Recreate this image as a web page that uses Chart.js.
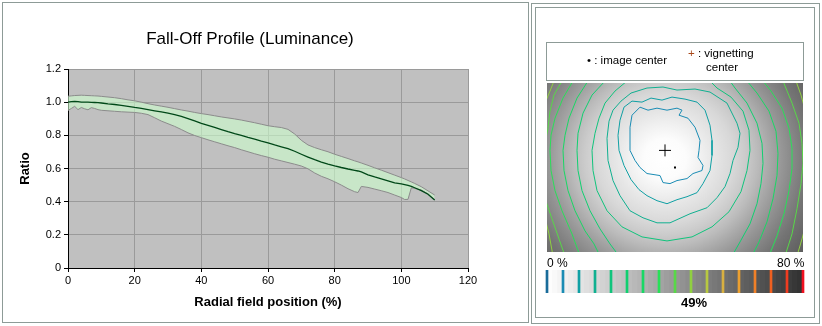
<!DOCTYPE html>
<html>
<head>
<meta charset="utf-8">
<script src="https://cdn.jsdelivr.net/npm/chart.js@4.4.0/dist/chart.umd.min.js"></script>
<style>
  body { margin: 0; width: 822px; height: 326px; overflow: hidden; position: relative; background: #fff;
         font-family: Arial, "Liberation Sans", sans-serif; color: #000; }
  canvas, .box, .txt { position: absolute; }
  .box { border: 1px solid #8d9b97; box-sizing: border-box; }
  .txt { white-space: nowrap; }
</style>
</head>
<body>
<canvas id="profile" width="530" height="324" style="left:0;top:0"></canvas>
<canvas id="map" width="256" height="169" style="left:547px;top:83px"></canvas>
<canvas id="scale" width="260" height="23" style="left:545px;top:270px"></canvas>

<div class="box" style="left:2px;top:2px;width:527px;height:321px"></div>
<div class="box" style="left:531px;top:3px;width:289px;height:321px"></div>
<div class="box" style="left:535px;top:7px;width:280px;height:311px"></div>
<div class="box" style="left:546px;top:42px;width:258px;height:39px"></div>

<div class="txt" style="left:587px;top:54px;font-size:11.5px">&#8226; : image center</div>
<div class="txt" style="left:688px;top:47px;font-size:11.5px"><span style="color:#a8481a">+</span> : vignetting</div>
<div class="txt" style="left:706px;top:61px;font-size:11.5px">center</div>
<div class="txt" style="left:547px;top:256px;font-size:12px">0 %</div>
<div class="txt" style="left:777px;top:256px;font-size:12px;width:26px;text-align:right">80 %</div>
<div class="txt" style="left:674px;top:295px;font-size:13px;font-weight:bold;width:40px;text-align:center">49%</div>

<script>
Chart.defaults.font.family = 'Arial, "Liberation Sans", sans-serif';
Chart.defaults.color = '#000';
Chart.defaults.animation = false;

// fall-off profile, radial position (%) vs ratio
const radialPos = [0,1,2,3,4,5,6,7,8,9,10,12,14,16,18,20,22,24,26,28,30,32,34,36,38,40,42,44,46,48,50,52,54,56,58,60,62,64,66,68,70,72,74,76,78,80,82,84,86,87,88,90,92,94,96,98,100,101,102,103,104,106,108,110];
const meanRatio = [1.0,1.003,1.005,1.003,1.0,1.0,1.0,0.999,0.998,0.997,0.995,0.99,0.986,0.981,0.975,0.968,0.962,0.955,0.948,0.941,0.934,0.925,0.914,0.901,0.887,0.872,0.86,0.848,0.835,0.822,0.81,0.8,0.788,0.777,0.765,0.754,0.742,0.731,0.72,0.704,0.686,0.669,0.653,0.639,0.627,0.616,0.606,0.597,0.589,0.585,0.579,0.562,0.549,0.538,0.526,0.513,0.507,0.503,0.498,0.492,0.484,0.467,0.445,0.41];
const upperRatio = [1.036,1.038,1.04,1.041,1.042,1.041,1.04,1.039,1.038,1.037,1.035,1.031,1.027,1.021,1.014,1.008,1.0,0.991,0.983,0.976,0.969,0.961,0.953,0.946,0.938,0.931,0.925,0.918,0.911,0.905,0.899,0.892,0.884,0.876,0.867,0.858,0.852,0.847,0.836,0.808,0.77,0.742,0.726,0.713,0.701,0.686,0.673,0.66,0.646,0.64,0.633,0.619,0.604,0.59,0.575,0.56,0.545,0.537,0.528,0.519,0.51,0.49,0.465,0.44];
const lowerRatio = [0.95,0.962,0.975,0.955,0.968,0.96,0.954,0.967,0.962,0.955,0.951,0.948,0.945,0.942,0.94,0.938,0.933,0.925,0.906,0.886,0.87,0.854,0.835,0.815,0.799,0.786,0.773,0.761,0.749,0.737,0.726,0.713,0.701,0.689,0.678,0.668,0.656,0.646,0.636,0.626,0.615,0.598,0.573,0.553,0.538,0.52,0.5,0.478,0.46,0.455,0.492,0.486,0.476,0.466,0.455,0.44,0.425,0.413,0.414,0.484,0.48,0.47,0.447,0.41];

// colour scale levels (%) and their line colours
const scaleLevels = [0,5,10,15,20,25,30,35,40,45,50,55,60,65,70,75,80];
const levelColors = ['#1a6c9a','#1a8cb4','#10a0a4','#10b090','#10c47c','#10d070','#18d864','#28e058','#58d848','#90d040','#b8c840','#d8b040','#eca030','#f08028','#f06020','#f03c20','#f01020'];

// contour map (image pixels, 256 x 168), one path per level
const imageCenter = [{x: 128, y: 84}];
const vignettingCenter = [{x: 118, y: 67}];
const glowCenter = {x: 118, y: 75};
const contour05 = [[85,32],[93,24],[101,27],[110,25],[120,27],[130,25],[135,27],[132,32],[141,35],[148,44],[153,57],[152,67],[151,74],[156,82],[155,87],[146,90],[140,95],[130,97],[123,100],[116,99],[113,92],[100,90],[93,84],[88,77],[83,67],[83,57],[83,44],[85,32]];
const contour10 = [[73,37],[77,24],[85,18],[95,19],[104,15],[115,17],[125,14],[138,16],[150,19],[158,27],[163,42],[165,57],[165,72],[163,87],[156,100],[150,109],[140,113],[130,116],[120,120],[110,117],[100,112],[92,106],[84,96],[77,82],[72,67],[71,52],[73,37]];
const contour15 = [[60,55],[62,38],[66,27],[74,18],[84,10],[100,5],[116,4],[130,7],[148,6],[163,9],[180,20],[190,40],[193,50],[191,64],[186,77],[183,90],[178,103],[170,114],[160,124],[143,130],[123,139],[110,139],[96,134],[83,127],[73,112],[66,97],[61,77],[60,55]];
const contour20 = [[80,-2],[68,8],[58,20],[52,35],[48,50],[45,67],[46,87],[50,107],[60,127],[75,143],[95,153],[120,157],[145,153],[165,143],[182,128],[194,108],[200,87],[203,67],[202,47],[196,28],[184,14],[170,5],[163,-2]];
const contour25 = [[58,-2],[45,12],[36,30],[31,50],[30,67],[31,87],[35,107],[43,127],[53,145],[63,160],[72,172],[185,172],[193,158],[203,140],[210,120],[214,100],[216,80],[215,60],[210,40],[200,20],[188,5],[183,-2]];
const contour30 = [[41,-2],[30,15],[22,35],[18,52],[16,67],[17,87],[21,107],[28,127],[38,147],[47,160],[53,172],[205,172],[212,158],[220,138],[226,115],[230,92],[231,70],[229,48],[222,28],[210,10],[200,-2]];
const contour35 = [[26,-2],[16,15],[8,35],[4,52],[3,67],[4,87],[8,107],[15,127],[25,150],[33,172],[222,172],[230,152],[237,130],[242,107],[245,85],[245,65],[242,45],[235,25],[224,8],[216,-2]];
const contour40 = [[15,-2],[7,12],[3,28],[1,45],[-2,60],[-2,115],[5,135],[12,155],[18,172],[238,172],[245,150],[250,125],[254,100],[256,80],[255,60],[252,40],[245,20],[236,-2]];
const contour45 = [[7,-2],[3,8],[-2,20],[-3,130],[2,150],[6,172],[250,172],[255,155],[259,140],[259,30],[254,12],[249,-2]];
const contours = [contour05, contour10, contour15, contour20, contour25, contour30, contour35, contour40, contour45];

// ---------- left: fall-off profile ----------
const pts = ys => radialPos.map((x, i) => ({x: x, y: ys[i]}));

const plotBg = {
  id: 'plotBg',
  beforeDraw(chart) {
    const {ctx, chartArea: a} = chart;
    ctx.save();
    ctx.fillStyle = '#c0c0c0';
    ctx.fillRect(a.left, a.top, a.right - a.left, a.bottom - a.top);
    ctx.restore();
  }
};
const heading = {
  id: 'heading',
  afterDraw(chart) {
    const ctx = chart.ctx;
    ctx.save();
    ctx.font = '17px Arial, "Liberation Sans", sans-serif';
    ctx.fillStyle = '#000';
    ctx.textAlign = 'center';
    ctx.textBaseline = 'middle';
    ctx.fillText('Fall-Off Profile (Luminance)', 250, 39);
    ctx.restore();
  }
};

const axisGrid = {color: '#9a9a9a', tickColor: '#000', tickLength: 4};

new Chart(document.getElementById('profile'), {
  type: 'line',
  data: {
    datasets: [
      {data: pts(meanRatio), borderColor: '#004818', borderWidth: 1.3, pointRadius: 0, fill: false},
      {data: pts(upperRatio), borderColor: '#8c8c8c', borderWidth: 1, pointRadius: 0,
       fill: '+1', backgroundColor: 'rgba(205,255,205,0.6)'},
      {data: pts(lowerRatio), borderColor: '#8c8c8c', borderWidth: 1, pointRadius: 0, fill: false}
    ]
  },
  options: {
    responsive: false,
    devicePixelRatio: 1,
    layout: {padding: {top: 69, right: 62, bottom: 0, left: 0}},
    plugins: {legend: {display: false}, tooltip: {enabled: false}, filler: {drawTime: 'beforeDatasetsDraw'}},
    scales: {
      x: {
        type: 'linear', min: 0, max: 120,
        ticks: {stepSize: 20, padding: 2, font: {size: 11}},
        grid: axisGrid,
        border: {color: '#000'},
        title: {display: true, text: 'Radial field position (%)', font: {size: 13, weight: 'bold'}, padding: {top: 0, bottom: 14}},
        afterFit: s => { s.height = 56; }
      },
      y: {
        min: 0, max: 1.2,
        ticks: {stepSize: 0.2, padding: 3, font: {size: 11}},
        grid: axisGrid,
        border: {color: '#000'},
        title: {display: true, text: 'Ratio', font: {size: 13, weight: 'bold'}, padding: {top: 18, bottom: 0}},
        afterFit: s => { s.width = 68; }
      }
    }
  },
  plugins: [plotBg, heading]
});

// ---------- right: contour map ----------
const glow = {
  id: 'glow',
  beforeDatasetsDraw(chart) {
    const {ctx, chartArea: a, scales: {x, y}} = chart;
    const cx = x.getPixelForValue(glowCenter.x), cy = y.getPixelForValue(glowCenter.y);
    ctx.save();
    ctx.beginPath();
    ctx.rect(a.left, a.top, a.right - a.left, a.bottom - a.top);
    ctx.clip();
    ctx.translate(cx, cy);
    ctx.scale(1, 0.95);
    const g = ctx.createRadialGradient(0, 0, 0, 0, 0, 175);
    g.addColorStop(0, '#ffffff');
    g.addColorStop(0.12, '#fcfcfc');
    g.addColorStop(0.21, '#f0f0f0');
    g.addColorStop(0.28, '#e6e6e6');
    g.addColorStop(0.39, '#d8d8d8');
    g.addColorStop(0.46, '#cbcbcb');
    g.addColorStop(0.53, '#bbbbbb');
    g.addColorStop(0.6, '#a8a8a8');
    g.addColorStop(0.67, '#969696');
    g.addColorStop(0.73, '#888888');
    g.addColorStop(0.82, '#747474');
    g.addColorStop(1, '#585858');
    ctx.fillStyle = g;
    ctx.fillRect(-400, -400, 800, 800);
    ctx.restore();
  }
};

new Chart(document.getElementById('map'), {
  type: 'scatter',
  data: {
    datasets: [
      {data: vignettingCenter, pointStyle: 'cross', pointRadius: 6, borderColor: '#000', borderWidth: 1},
      {data: imageCenter, pointStyle: 'rect', pointRadius: 1.4, backgroundColor: '#000', borderColor: '#000', borderWidth: 0}
    ].concat(contours.map((c, i) => ({
      data: c.map(p => ({x: p[0], y: p[1]})),
      showLine: true, pointRadius: 0, borderWidth: 1, tension: 0,
      borderColor: levelColors[i + 1]
    })))
  },
  options: {
    responsive: false,
    devicePixelRatio: 1,
    layout: {padding: 0, autoPadding: false},
    plugins: {legend: {display: false}, tooltip: {enabled: false}},
    scales: {
      x: {type: 'linear', min: 0, max: 256, display: false},
      y: {type: 'linear', min: 0, max: 168, reverse: true, display: false}
    }
  },
  plugins: [glow]
});

// ---------- right: colour scale bar ----------
const cellsPerStep = 3;
const cells = [];
for (let i = 0; i < scaleLevels.length - 1; i++) {
  const w = (scaleLevels[i + 1] - scaleLevels[i]) / cellsPerStep;
  for (let k = 0; k < cellsPerStep; k++) cells.push(scaleLevels[i] + w * (k + 0.5));
}
const cellShade = v => {
  const g = Math.round(255 - (v / 80) * 206);
  return 'rgb(' + g + ',' + g + ',' + g + ')';
};

new Chart(document.getElementById('scale'), {
  type: 'bar',
  data: {
    datasets: [
      {data: scaleLevels.map(v => ({x: v, y: 1})), backgroundColor: levelColors, barThickness: 2, grouped: false},
      {data: cells.map(v => ({x: v, y: 1})), backgroundColor: cells.map(cellShade), barThickness: 5.4, grouped: false}
    ]
  },
  options: {
    responsive: false,
    devicePixelRatio: 1,
    layout: {padding: 0, autoPadding: false},
    plugins: {legend: {display: false}, tooltip: {enabled: false}},
    scales: {
      x: {type: 'linear', min: -0.625, max: 80.625, offset: false, display: false},
      y: {min: 0, max: 1, display: false}
    }
  }
});
</script>
</body>
</html>
